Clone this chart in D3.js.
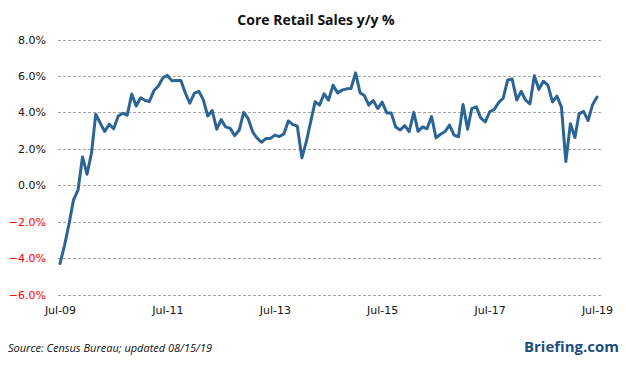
<!DOCTYPE html>
<html>
<head>
<meta charset="utf-8">
<script src="https://cdn.jsdelivr.net/npm/d3@7"></script>
<style>
  html, body { margin: 0; padding: 0; background: #fff; }
  svg { display: block; }
</style>
</head>
<body>
<svg id="chart" width="626" height="367"></svg>
<script>
// ---- data ----
const startMonth = "2009-07";          // first observation (Jul-09), monthly
const values = [
  -4.3, -3.3, -2.1, -0.8, -0.25, 1.55, 0.6, 1.8, 3.9, 3.4, 2.95, 3.35,
  3.1, 3.8, 3.95, 3.85, 5.0, 4.35, 4.8, 4.65, 4.6, 5.2, 5.45, 5.9,
  6.03, 5.73, 5.75, 5.75, 5.05, 4.5, 5.05, 5.15, 4.7, 3.8, 4.1, 3.08,
  3.6, 3.2, 3.12, 2.72, 3.03, 4.0, 3.65, 2.92, 2.6, 2.36, 2.56, 2.57,
  2.75, 2.67, 2.82, 3.53, 3.33, 3.24, 1.5, 2.42, 3.45, 4.58, 4.4, 5.02,
  4.67, 5.49, 5.07, 5.22, 5.29, 5.31, 6.17, 5.07, 4.93, 4.4, 4.65, 4.21,
  4.56, 3.97, 3.96, 3.19, 3.03, 3.27, 2.95, 4.0, 2.96, 3.2, 3.1, 3.77,
  2.6, 2.8, 2.95, 3.3, 2.75, 2.66, 4.43, 3.08, 4.2, 4.3, 3.7, 3.48,
  4.03, 4.16, 4.55, 4.78, 5.78, 5.83, 4.68, 5.16, 4.69, 4.47, 6.01, 5.26,
  5.71, 5.5, 4.57, 4.89, 4.3, 1.3, 3.37, 2.62, 3.92, 4.05, 3.55, 4.42,
  4.84
];
const yTicks = [-6, -4, -2, 0, 2, 4, 6, 8];
const xTickLabels = ["Jul-09", "Jul-11", "Jul-13", "Jul-15", "Jul-17", "Jul-19"];
const titleText = "Core Retail Sales y/y %";
const sourceText = "Source: Census Bureau; updated 08/15/19";
const brandText = "Briefing.com";

// ---- build ----
const parseMonth = d3.timeParse("%Y-%m");
const t0 = parseMonth(startMonth);
const data = values.map((v, i) => ({ date: d3.timeMonth.offset(t0, i), value: v }));
const parseTick = d3.timeParse("%b-%y");
const tickDates = xTickLabels.map(s => parseTick(s));

const svg = d3.select("#chart");
const x = d3.scaleTime()
  .domain([data[0].date, data[data.length - 1].date])
  .range([60, 597]);
const y = d3.scaleLinear().domain([-6, 8]).range([294.5, 39.5]);

// title
svg.append("text")
  .attr("x", 316).attr("y", 25)
  .attr("text-anchor", "middle")
  .attr("font-family", "'Open Sans', sans-serif")
  .attr("font-weight", 700)
  .attr("font-size", 14)
  .attr("fill", "#111")
  .text(titleText);

// gridlines
const grid = svg.append("g");
grid.selectAll("line").data(yTicks).join("line")
  .attr("x1", 58).attr("x2", 601)
  .attr("y1", d => Math.round(y(d)) + 0.5)
  .attr("y2", d => Math.round(y(d)) + 0.5)
  .attr("stroke", "#a6a6a6")
  .attr("stroke-width", 1)
  .attr("stroke-dasharray", "3,2");

// y axis labels
const yAxis = svg.append("g").attr("transform", "translate(46,0)")
  .call(d3.axisLeft(y).tickValues(yTicks).tickSize(0).tickPadding(0)
    .tickFormat(d => d3.format(".1f")(d) + "%"));
yAxis.select(".domain").remove();
yAxis.selectAll("text")
  .attr("font-family", "'DejaVu Sans', sans-serif")
  .attr("font-size", 11)
  .attr("fill", d => d < 0 ? "#ff0000" : "#111");

// x axis labels
const xAxis = svg.append("g").attr("transform", "translate(0,306)")
  .call(d3.axisBottom(x).tickValues(tickDates).tickSize(0).tickPadding(0)
    .tickFormat(d3.timeFormat("%b-%y")));
xAxis.select(".domain").remove();
xAxis.selectAll("text")
  .attr("font-family", "'DejaVu Sans', sans-serif")
  .attr("font-size", 11)
  .attr("fill", "#111");

// line
const line = d3.line().x(d => x(d.date)).y(d => y(d.value));
svg.append("path")
  .datum(data)
  .attr("d", line)
  .attr("fill", "none")
  .attr("stroke", "#2c6496")
  .attr("stroke-width", 3)
  .attr("stroke-linejoin", "round")
  .attr("stroke-linecap", "round");

// footer
svg.append("text")
  .attr("x", 8).attr("y", 352)
  .attr("font-family", "'Open Sans', sans-serif")
  .attr("font-style", "italic")
  .attr("font-size", 11)
  .attr("fill", "#111")
  .text(sourceText);

svg.append("text")
  .attr("x", 619).attr("y", 352)
  .attr("text-anchor", "end")
  .attr("font-family", "'Open Sans', sans-serif")
  .attr("font-weight", 700)
  .attr("font-size", 15)
  .attr("fill", "#1f4e7a")
  .text(brandText);
</script>
</body>
</html>
